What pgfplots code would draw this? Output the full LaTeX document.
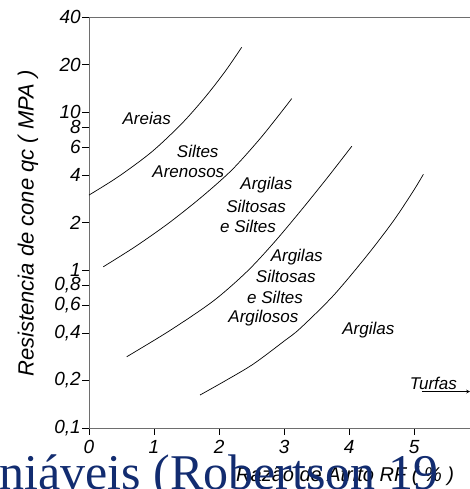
\documentclass[border=0pt]{standalone}
\usepackage{pgfplots}
\pgfplotsset{compat=1.18}
\usepackage{fontspec}
\setmainfont{Liberation Sans}
\newfontfamily\capfont{Liberation Serif}
\definecolor{capblue}{RGB}{18,44,112}
\definecolor{axgray}{RGB}{110,110,110}

\begin{document}
\begin{tikzpicture}
\clip (0,0) rectangle (470pt,489pt);
\useasboundingbox (0,0) rectangle (470pt,489pt);
\begin{axis}[
  at={(89pt,61pt)}, anchor=south west,
  scale only axis, width=381pt, height=411pt,
  ymode=log, xmin=0, xmax=5.86, ymin=0.1, ymax=40,
  axis x line*=bottom, axis y line*=left,
  x axis line style={-, axgray, line width=0.8pt},
  y axis line style={-, axgray, line width=0.8pt},
  tick align=outside, major tick length=7pt,
  tick style={black, line width=0.6pt},
  xtick={0,1,2,3,4,5}, xticklabels={0,1,2,3,4,5},
  ytick={0.1,0.2,0.4,0.6,0.8,1,2,4,6,8,10,20,40},
  yticklabels={{0,1},{0,2},{0,4},{0,6},{0,8},1,2,4,6,8,10,20,40},
  yminorticks=false,
  ticklabel style={font=\itshape\fontsize{19}{19}\selectfont},
  yticklabel style={inner sep=1pt},
  xticklabel style={yshift=-2pt},
  clip=false,
]
% limites entre as zonas
\addplot[black, line width=0.7pt, smooth] coordinates {
(0,2.983) (0.451,3.90) (0.965,5.60) (1.426,8.45) (1.785,12.41) (2.092,18.05) (2.349,25.74)};
\addplot[black, line width=0.7pt, smooth] coordinates {
(0.22,1.049) (0.708,1.404) (1.220,1.974) (1.734,2.906) (2.195,4.292) (2.605,6.597) (2.888,9.193) (3.118,12.17)};
\addplot[black, line width=0.7pt, smooth] coordinates {
(0.58,0.2825) (1.246,0.4145) (1.912,0.637) (2.426,0.975) (2.835,1.476) (3.246,2.344) (3.657,3.80) (4.042,6.08)};
\addplot[black, line width=0.7pt, smooth] coordinates {
(1.708,0.1618) (2.1,0.1995) (2.528,0.2541) (3.0,0.3548) (3.246,0.4266) (3.758,0.689) (4.272,1.230) (4.682,2.046) (4.989,3.17) (5.143,4.04)};
% seta turfas
\addplot[black, line width=0.7pt, -stealth] coordinates {(5.12,0.170) (5.86,0.170)};

\begin{scope}[every node/.style={font=\itshape\fontsize{17}{17}\selectfont, inner sep=0pt}]
\node at (axis cs:0.887,9.12) {Areias};
\node at (axis cs:1.672,5.61) {Siltes};
\node at (axis cs:1.528,4.19) {Arenosos};
\node at (axis cs:2.729,3.45) {Argilas};
\node at (axis cs:2.569,2.52) {Siltosas};
\node at (axis cs:2.446,1.88) {e Siltes};
\node at (axis cs:3.195,1.21) {Argilas};
\node at (axis cs:3.026,0.907) {Siltosas};
\node at (axis cs:2.862,0.672) {e Siltes};
\node at (axis cs:2.682,0.494) {Argilosos};
\node at (axis cs:4.297,0.417) {Argilas};
\node at (axis cs:5.297,0.192) {Turfas};
\end{scope}
\end{axis}
\draw[axgray, line width=0.8pt] (89pt,472pt) -- (470pt,472pt);
\node[rotate=90, font=\itshape\fontsize{22}{22}\selectfont] at (28pt,265.5pt) {Resistencia de cone qc ( MPA )};
\node[anchor=base west, inner sep=0pt, font=\itshape\fontsize{20}{20}\selectfont] at (236pt,7pt) {Razão de Atrito RF ( \% )};
\node[anchor=base west, inner sep=0pt, text=capblue, font=\capfont\fontsize{50}{50}\selectfont] at (-1pt,-1pt) {niáveis (Robertson 19};
\end{tikzpicture}
\end{document}
